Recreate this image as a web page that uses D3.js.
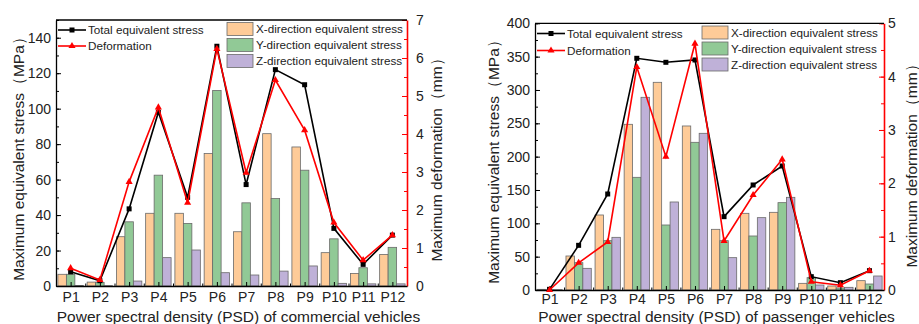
<!DOCTYPE html>
<html>
<head>
<meta charset="utf-8">
<script src="https://cdn.jsdelivr.net/npm/d3@7"></script>
<style>
body { margin: 0; background: #fff; }
svg { display: block; font-family: "Liberation Sans", Arial, sans-serif; }
</style>
</head>
<body>
<svg id="chart" width="919" height="324"></svg>
<script>
var categories = ["P1", "P2", "P3", "P4", "P5", "P6", "P7", "P8", "P9", "P10", "P11", "P12"];

// commercial vehicles (left panel)
var comXStress = [6.6, 2.2, 27.8, 41, 41, 74.7, 30.6, 85.9, 78.4, 18.8, 7.1, 17.8];
var comYStress = [6.6, 2.0, 36.2, 62.5, 35.3, 110.3, 46.9, 49.3, 65.3, 26.6, 10.3, 21.8];
var comZStress = [0.3, 0.2, 2.8, 16, 20.3, 7.5, 6.2, 8.4, 11.3, 1.5, 1.2, 1.2];
var comTotal = [8, 3, 43.5, 98, 50, 135.2, 57.2, 122, 113.5, 32.5, 12.2, 28.7];
var comDeform = [0.47, 0.16, 2.74, 4.70, 2.19, 6.24, 2.98, 5.42, 4.10, 1.67, 0.68, 1.34];
var comStressTicks = [0, 20, 40, 60, 80, 100, 120, 140];
var comDeformTicks = [0, 1, 2, 3, 4, 5, 6, 7];

// passenger vehicles (right panel)
var pasXStress = [1, 51, 112.5, 248.5, 311.5, 246, 91, 115, 116.5, 10, 6, 14];
var pasYStress = [0.5, 41, 74, 169, 97.5, 221.5, 74, 81, 131, 18.5, 3, 9];
var pasZStress = [0.5, 32.5, 79, 289, 132, 235, 48.5, 108.5, 139, 7.5, 4, 21];
var pasTotal = [1, 67, 144, 347.5, 341.5, 345, 110, 157.5, 186, 20, 11, 29];
var pasDeform = [0, 0.51, 0.9, 4.18, 2.5, 4.62, 0.92, 1.78, 2.45, 0.155, 0.09, 0.36];
var pasStressTicks = [0, 50, 100, 150, 200, 250, 300, 350, 400];
var pasDeformTicks = [0, 1, 2, 3, 4, 5];

var lineNames = ["Total equivalent stress", "Deformation"];
var barNames = ["X-direction equivalent stress", "Y-direction equivalent stress", "Z-direction equivalent stress"];
var barColors = ["#fecb98", "#91c996", "#bfb1d8"];

var FONT = '"Liberation Sans", Arial, sans-serif';
var svg = d3.select("#chart");

// d3 axes put their own font on the group, undo that
function styleAxis(a) {
	a.attr("font-family", FONT).attr("font-size", 14);
	a.selectAll("text").attr("fill", "#222");
}

function drawPanel(p) {
	var x = d3.scaleLinear().domain([0.5, 12.5]).range([p.left, p.right]);
	var y = d3.scaleLinear().domain([0, p.yMax]).range([p.bottom, p.top]);
	var y2 = d3.scaleLinear().domain([0, p.y2Max]).range([p.bottom, p.top]);
	var step = x(2) - x(1);
	var bw = step * 0.29;
	var g = svg.append("g");

	// bars, Y bar sits on the category
	[p.xs, p.ys, p.zs].forEach(function (values, k) {
		g.selectAll(null)
			.data(values)
			.enter()
			.append("rect")
			.attr("x", function (d, i) { return x(i + 1) + (k - 1.5) * bw; })
			.attr("y", function (d) { return y(d); })
			.attr("width", bw)
			.attr("height", function (d) { return y(0) - y(d); })
			.attr("fill", barColors[k])
			.attr("stroke", "#6a6a6a")
			.attr("stroke-width", 0.8);
	});

	// axes
	var minorY = d3.range(0, p.yMax + 0.001, p.yMinor);
	var minorY2 = d3.range(0, p.y2Max + 0.001, 0.5);

	g.append("g")
		.attr("transform", "translate(" + p.left + ",0)")
		.call(d3.axisLeft(y).tickValues(minorY).tickSize(-3).tickSizeOuter(0).tickFormat(""))
		.call(function (a) { a.select(".domain").remove(); });
	var ax = g.append("g")
		.attr("transform", "translate(" + p.left + ",0)")
		.call(d3.axisLeft(y).tickValues(p.yTicks).tickSize(-5).tickSizeOuter(0).tickPadding(5))
		.call(styleAxis);
	ax.select(".domain").attr("stroke-width", 1.3);

	var r2m = g.append("g")
		.attr("transform", "translate(" + p.right + ",0)")
		.call(d3.axisRight(y2).tickValues(minorY2).tickSize(-3).tickSizeOuter(0).tickFormat(""));
	r2m.select(".domain").remove();
	r2m.selectAll("line").attr("stroke", "red");
	var r2 = g.append("g")
		.attr("transform", "translate(" + p.right + ",0)")
		.call(d3.axisRight(y2).tickValues(p.y2Ticks).tickSize(-5).tickSizeOuter(0)
			.tickPadding(p.r2Pad).tickFormat(d3.format("d")))
		.call(styleAxis);
	r2.selectAll("line").attr("stroke", "red");
	r2.select(".domain").attr("stroke", "red").attr("stroke-width", 1.6);

	var bx = g.append("g")
		.attr("transform", "translate(0," + p.bottom + ")")
		.call(d3.axisBottom(x).tickValues(d3.range(1, 13)).tickSize(-4).tickSizeOuter(0).tickPadding(p.xPad)
			.tickFormat(function (i) { return categories[i - 1]; }))
		.call(styleAxis);
	bx.select(".domain").attr("stroke-width", 1.3);
	g.append("g")
		.attr("transform", "translate(0," + p.bottom + ")")
		.call(d3.axisBottom(x).tickValues(d3.range(1.5, 12.5, 1)).tickSize(-2.5).tickSizeOuter(0).tickFormat(""))
		.call(function (a) { a.select(".domain").remove(); });

	g.append("line")
		.attr("x1", p.left).attr("x2", p.right)
		.attr("y1", p.top).attr("y2", p.top)
		.attr("stroke", "#000").attr("stroke-width", 1.3);

	// lines
	var totalLine = d3.line()
		.x(function (d, i) { return x(i + 1); })
		.y(function (d) { return y(d); });
	var deformLine = d3.line()
		.x(function (d, i) { return x(i + 1); })
		.y(function (d) { return y2(d); });

	g.append("path").datum(p.total)
		.attr("d", totalLine)
		.attr("fill", "none").attr("stroke", "#000").attr("stroke-width", 1.6);
	g.selectAll(null).data(p.total).enter().append("rect")
		.attr("x", function (d, i) { return x(i + 1) - 2.5; })
		.attr("y", function (d) { return y(d) - 2.5; })
		.attr("width", 5).attr("height", 5)
		.attr("fill", "#000");

	g.append("path").datum(p.deform)
		.attr("d", deformLine)
		.attr("fill", "none").attr("stroke", "#f00").attr("stroke-width", 1.6);
	var tri = d3.symbol().type(d3.symbolTriangle).size(22);
	g.selectAll(null).data(p.deform).enter().append("path")
		.attr("d", tri)
		.attr("transform", function (d, i) { return "translate(" + x(i + 1) + "," + y2(d) + ")"; })
		.attr("fill", "#f00");

	// legends
	lineNames.forEach(function (name, k) {
		var ly = p.lineLegY + k * p.lineLegGap;
		var col = k === 0 ? "#000" : "#f00";
		g.append("line")
			.attr("x1", p.left + 2).attr("x2", p.left + 30)
			.attr("y1", ly).attr("y2", ly)
			.attr("stroke", col).attr("stroke-width", 1.6);
		if (k === 0) {
			g.append("rect").attr("x", p.left + 13.5).attr("y", ly - 2.5)
				.attr("width", 5).attr("height", 5).attr("fill", col);
		} else {
			g.append("path").attr("d", tri)
				.attr("transform", "translate(" + (p.left + 16) + "," + ly + ")")
				.attr("fill", col);
		}
		g.append("text")
			.attr("x", p.left + 32).attr("y", ly + 4)
			.attr("font-size", 11.7).attr("fill", "#222")
			.text(name);
	});
	barNames.forEach(function (name, k) {
		var ly = p.barLegY + k * p.barLegGap;
		g.append("rect")
			.attr("x", p.barLegX).attr("y", ly - 6.5)
			.attr("width", 26).attr("height", 13)
			.attr("fill", barColors[k]).attr("stroke", "#6a6a6a").attr("stroke-width", 0.8);
		g.append("text")
			.attr("x", p.barLegX + 29).attr("y", ly + 4)
			.attr("font-size", 11.7).attr("fill", "#222")
			.text(name);
	});

	// axis titles
	g.append("text")
		.attr("x", (p.left + p.right) / 2 + 7).attr("y", 321.5)
		.attr("text-anchor", "middle").attr("font-size", 15.5).attr("fill", "#222")
		.text(p.xTitle);
	g.append("text")
		.attr("transform", "translate(" + p.yTitleX + "," + p.yTitleY + ") rotate(-90)")
		.attr("text-anchor", "middle").attr("font-size", 15.5).attr("fill", "#222")
		.text("Maximum equivalent stress（MPa）");
	g.append("text")
		.attr("transform", "translate(" + p.y2TitleX + "," + p.y2TitleY + ") rotate(-90)")
		.attr("text-anchor", "middle").attr("font-size", 15.5).attr("fill", "#222")
		.text("Maximum deformation（mm）");
}

drawPanel({
	left: 56, right: 407, top: 20, bottom: 286,
	yMax: 150, yMinor: 10, yTicks: comStressTicks,
	y2Max: 7, y2Ticks: comDeformTicks, r2Pad: 9, xPad: 6,
	xs: comXStress, ys: comYStress, zs: comZStress,
	total: comTotal, deform: comDeform,
	lineLegY: 30, lineLegGap: 16,
	barLegX: 227, barLegY: 29, barLegGap: 16,
	xTitle: "Power spectral density (PSD) of commercial vehicles",
	yTitleX: 24, yTitleY: 155, y2TitleX: 442, y2TitleY: 156
});

drawPanel({
	left: 535, right: 884, top: 23.3, bottom: 290,
	yMax: 400, yMinor: 25, yTicks: pasStressTicks,
	y2Max: 5, y2Ticks: pasDeformTicks, r2Pad: 4, xPad: 4.5,
	xs: pasXStress, ys: pasYStress, zs: pasZStress,
	total: pasTotal, deform: pasDeform,
	lineLegY: 33.5, lineLegGap: 17,
	barLegX: 702, barLegY: 32.5, barLegGap: 16,
	xTitle: "Power spectral density (PSD) of passenger vehicles",
	yTitleX: 499, yTitleY: 158, y2TitleX: 917, y2TitleY: 162
});
</script>
</body>
</html>
